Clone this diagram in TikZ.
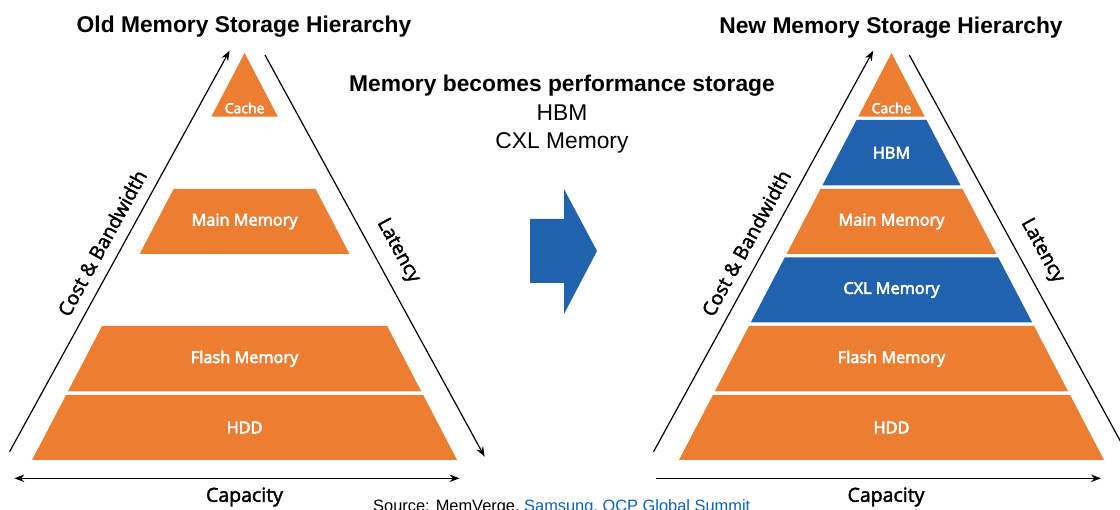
\documentclass[tikz,border=0pt]{standalone}
\usepackage{fontspec}
\setmainfont{Liberation Sans}
\newfontfamily\segoe[FakeBold=2]{Open Sans}
\newfontfamily\segoesb[FakeBold=3.5]{Open Sans}
\usetikzlibrary{arrows.meta}
\definecolor{orng}{RGB}{237,125,49}
\definecolor{blu}{RGB}{33,98,175}
\definecolor{linkblue}{RGB}{5,99,193}
\tikzset{
  titletext/.style={font=\fontsize{22.8}{26}\selectfont\bfseries, inner sep=0pt},
  midtext/.style={font=\fontsize{22.8}{28.5}\selectfont, inner sep=0pt, align=center},
  bandlabel/.style={text=white, font=\segoesb\fontsize{16.3}{18}\selectfont, inner sep=0pt},
  cachelabel/.style={text=white, font=\segoesb\fontsize{14}{16}\selectfont, inner sep=0pt},
  axislabel/.style={font=\segoe\fontsize{19.5}{22}\selectfont, inner sep=0pt},
  axisarrow/.style={line width=1.2pt, -{Stealth[length=10pt,width=7.5pt]}},
  axisline/.style={line width=1.2pt},
  bigarrow/.style={fill=blu, draw=none},
}
% \band{cx}{y1}{y2}{color}{name}{label}{style}
\newcommand{\band}[7]{%
  \fill[#4] ({#1-0.5221*(#2-53)},#2) -- ({#1+0.5221*(#2-53)},#2)
     -- ({#1+0.5221*(#3-53)},#3) -- ({#1-0.5221*(#3-53)},#3) -- cycle;
  \node[#7] (#5) at (#1,{(#2+#3)/2}) {#6};}
\begin{document}
\begin{tikzpicture}[x=1pt,y=-1pt]
\useasboundingbox (0,0) rectangle (1120,510);
% titles
\node[titletext, anchor=base] (oldt) at (244,32.5) {Old Memory Storage Hierarchy};
\node[titletext, anchor=base] (newt) at (891,33.3) {New Memory Storage Hierarchy};
% middle text
\node[titletext, anchor=base] (mbt) at (562,92) {Memory becomes performance storage};
\node[midtext, anchor=base] (hbmt) at (562,120.7) {HBM};
\node[midtext, anchor=base] (cxlt) at (562,149) {CXL Memory};
% left pyramid
\fill[orng] (244.6,53) -- (277.86,116.7) -- (211.34,116.7) -- cycle;
\node[cachelabel] (lcache) at (244.6,108) {Cache};
\band{244.6}{189}{254}{orng}{lmain}{Main Memory}{bandlabel}
\band{244.6}{326}{391.5}{orng}{lflash}{Flash Memory}{bandlabel}
\band{244.6}{395}{460}{orng}{lhdd}{HDD}{bandlabel}
% right pyramid
\fill[orng] (891.5,53) -- (924.76,116.7) -- (858.24,116.7) -- cycle;
\node[cachelabel] (rcache) at (891.5,108) {Cache};
\band{891.5}{120}{185.5}{blu}{rhbm}{HBM}{bandlabel}
\band{891.5}{189}{254}{orng}{rmain}{Main Memory}{bandlabel}
\band{891.5}{257.5}{322.5}{blu}{rcxl}{CXL Memory}{bandlabel}
\band{891.5}{326}{391.5}{orng}{rflash}{Flash Memory}{bandlabel}
\band{891.5}{395}{460}{orng}{rhdd}{HDD}{bandlabel}
% axis coordinates
\coordinate (lcb0) at (9.6,451.7);
\coordinate (lcb1) at (229.6,50.7);
\coordinate (llat0) at (265,55);
\coordinate (llat1) at (484.6,456.7);
\coordinate (lcap0) at (14.3,478.3);
\coordinate (lcap1) at (459.6,478.3);
\coordinate (rcb0) at (653.6,451.7);
\coordinate (rcb1) at (873.2,50.7);
\coordinate (rlat0) at (909.3,55);
\coordinate (rlat1) at (1128.9,456.7);
\coordinate (rcap0) at (656.4,478.3);
\coordinate (rcap1) at (1101,478.3);
% axes
\draw[axisarrow] (lcb0) -- (lcb1);
\draw[axisarrow] (llat0) -- (llat1);
\draw[axisline, {Stealth[length=10pt,width=7.5pt]}-{Stealth[length=10pt,width=7.5pt]}] (lcap0) -- (lcap1);
\draw[axisarrow] (rcb0) -- (rcb1);
\draw[axisarrow] (rlat0) -- (rlat1);
\draw[axisarrow] (rcap0) -- (rcap1);
% axis labels
\node[axislabel, rotate=61.25] (lcbt) at (102,243) {Cost \& Bandwidth};
\node[axislabel, rotate=-61.3] (llatt) at (398,251) {Latency};
\node[axislabel] (lcapt) at (244.5,497) {Capacity};
\node[axislabel, rotate=61.25] (rcbt) at (746,243) {Cost \& Bandwidth};
\node[axislabel, rotate=-61.3] (rlatt) at (1042,251) {Latency};
\node[axislabel] (rcapt) at (886,497) {Capacity};
% big arrow
\fill[bigarrow] (530,219) -- (564,219) -- (564,189) -- (597,251) -- (564,314) -- (564,283) -- (530,283) -- cycle;
% source
\node[anchor=base west, inner sep=0pt, font=\fontsize{16.4}{18}\selectfont] (src) at (373,512) {Source: MemVerge, \textcolor{linkblue}{Samsung, OCP Global Summit}};
\end{tikzpicture}
\end{document}
